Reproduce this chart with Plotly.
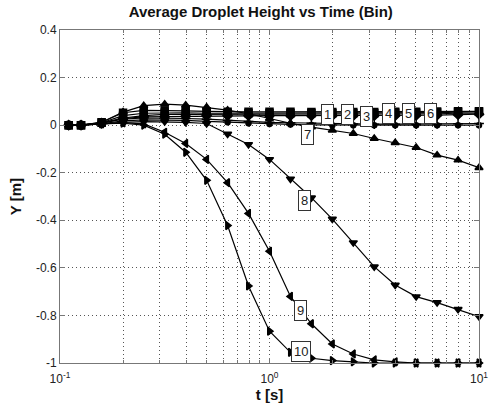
import math
import plotly.graph_objects as go

# Sample times [s]
t = [0.11, 0.126, 0.158, 0.2, 0.251, 0.316, 0.398, 0.501, 0.631, 0.794, 1.0,
     1.259, 1.585, 1.995, 2.512, 3.162, 3.981, 5.012, 6.31, 7.943, 10.0]

# Average droplet height per bin [m]
bin1 = [0, 0, 0.010, 0.030, 0.040, 0.045, 0.045, 0.045, 0.045, 0.046, 0.046,
        0.046, 0.046, 0.046, 0.046, 0.046, 0.047, 0.047, 0.048, 0.050, 0.050]
bin2 = [0, 0, 0.010, 0.040, 0.050, 0.052, 0.052, 0.050, 0.050, 0.050, 0.050,
        0.050, 0.050, 0.050, 0.050, 0.050, 0.052, 0.052, 0.053, 0.055, 0.056]
bin3 = [0, 0, 0.008, 0.028, 0.035, 0.036, 0.037, 0.040, 0.040, 0.040, 0.040,
        0.040, 0.040, 0.040, 0.040, 0.040, 0.040, 0.041, 0.042, 0.044, 0.046]
bin4 = [0, 0, 0.008, 0.025, 0.030, 0.030, 0.028, 0.025, 0.020, 0.015, 0.012,
        0.010, 0.008, 0.006, 0.005, 0.004, 0.004, 0.004, 0.005, 0.006, 0.007]
bin5 = [0, 0, 0.006, 0.018, 0.022, 0.022, 0.020, 0.016, 0.012, 0.008, 0.005,
        0.003, 0.001, 0.000, 0.000, 0.000, 0.000, 0.000, 0.000, 0.000, 0.000]
bin6 = [0, 0, 0.012, 0.052, 0.062, 0.062, 0.060, 0.058, 0.056, 0.056, 0.056,
        0.056, 0.055, 0.055, 0.055, 0.055, 0.056, 0.056, 0.057, 0.058, 0.058]
bin7 = [0, 0, 0.012, 0.055, 0.082, 0.088, 0.084, 0.075, 0.063, 0.048, 0.028,
        0.008, -0.008, -0.021, -0.035, -0.056, -0.074, -0.094, -0.126, -0.147, -0.179]
bin8 = [0, 0, 0.005, 0.012, 0.015, 0.015, 0.012, 0.007, -0.037, -0.081, -0.144,
        -0.226, -0.305, -0.395, -0.494, -0.595, -0.672, -0.721, -0.746, -0.774, -0.805]
bin9 = [0, 0, 0.005, 0.010, 0.005, -0.030, -0.077, -0.144, -0.242, -0.371, -0.530,
        -0.720, -0.835, -0.920, -0.962, -0.987, -0.995, -1.0, -1.0, -1.0, -1.0]
bin10 = [0, 0, 0.005, 0.008, 0.0, -0.038, -0.114, -0.232, -0.422, -0.676, -0.866,
         -0.955, -0.980, -0.990, -0.995, -1.0, -1.0, -1.0, -1.0, -1.0, -1.0]

series = [bin1, bin2, bin3, bin4, bin5, bin6, bin7, bin8, bin9, bin10]
symbols = ["circle", "square", "diamond", "cross-thin-open", "circle", "square",
           "triangle-up", "triangle-down", "triangle-left", "triangle-right"]
sizes = [7, 7, 7, 7, 5, 7, 7, 7, 7, 7]

# Label positions (t, y) for each bin number
label_t = [1.9, 2.36, 2.9, 3.7, 4.6, 5.9, 1.52, 1.47, 1.41, 1.41]
label_y = [0.046, 0.046, 0.038, 0.050, 0.048, 0.050, -0.038, -0.315, -0.78, -0.95]
label_txt = ["1", "2", "3", "4", "5", "6", "7", "8", "9", "10"]

# Axis ticks
x_major = [0.1, 1, 10]
x_major_text = ["10<sup>-1</sup>", "10<sup>0</sup>", "10<sup>1</sup>"]
x_minor = [m * 10 ** e for e in (-1, 0) for m in range(2, 10)]
y_ticks = [-1, -0.8, -0.6, -0.4, -0.2, 0, 0.2, 0.4]
y_text = ["-1", "-0.8", "-0.6", "-0.4", "-0.2", "0", "0.2", "0.4"]

fig = go.Figure()
for ys, sym, sz in zip(series, symbols, sizes):
    fig.add_trace(go.Scatter(
        x=t, y=ys, mode="lines+markers",
        line=dict(color="black", width=1.2),
        marker=dict(symbol=sym, size=sz, color="black",
                    line=dict(color="black", width=1.5)),
        showlegend=False, cliponaxis=False))

for lt, ly, txt in zip(label_t, label_y, label_txt):
    fig.add_annotation(x=math.log10(lt), y=ly, text=txt, showarrow=False,
                       font=dict(family="Liberation Sans, Arial", size=13, color="#222"),
                       bgcolor="white", bordercolor="#333", borderwidth=1, borderpad=2)

axis_font = dict(family="Liberation Sans, Arial", size=12, color="#222")
grid_style = dict(gridcolor="#555", griddash="1px,3px", gridwidth=1)
fig.update_layout(
    width=492, height=407,
    margin=dict(l=60, r=13, t=30, b=44),
    paper_bgcolor="white", plot_bgcolor="white",
    title=dict(text="<b>Average Droplet Height vs Time (Bin)</b>", x=0.53, xanchor="center",
               y=0.985, yanchor="top",
               font=dict(family="Liberation Sans, Arial", size=15, color="#111")),
    xaxis=dict(type="log", range=[-1, 1], tickmode="array",
               tickvals=x_major, ticktext=x_major_text,
               showgrid=True, **grid_style,
               minor=dict(tickmode="array", tickvals=x_minor, showgrid=True,
                          ticks="inside", ticklen=3, tickcolor="#777", **grid_style),
               showline=True, linecolor="#777", linewidth=1, mirror="ticks",
               ticks="inside", ticklen=5, tickcolor="#777", tickfont=axis_font,
               ticklabelstandoff=5, zeroline=False, automargin=False,
               title=dict(text="<b>t [s]</b>", standoff=3,
                          font=dict(family="Liberation Sans, Arial", size=15, color="#111"))),
    yaxis=dict(range=[-1, 0.4], tickvals=y_ticks, ticktext=y_text,
               showgrid=True, **grid_style,
               showline=True, linecolor="#777", linewidth=1, mirror="ticks",
               ticks="inside", ticklen=5, tickcolor="#777", tickfont=axis_font,
               zeroline=False, automargin=False,
               title=dict(text="<b>Y [m]</b>", standoff=10,
                          font=dict(family="Liberation Sans, Arial", size=15, color="#111"))),
)

fig.write_html("out.html")
